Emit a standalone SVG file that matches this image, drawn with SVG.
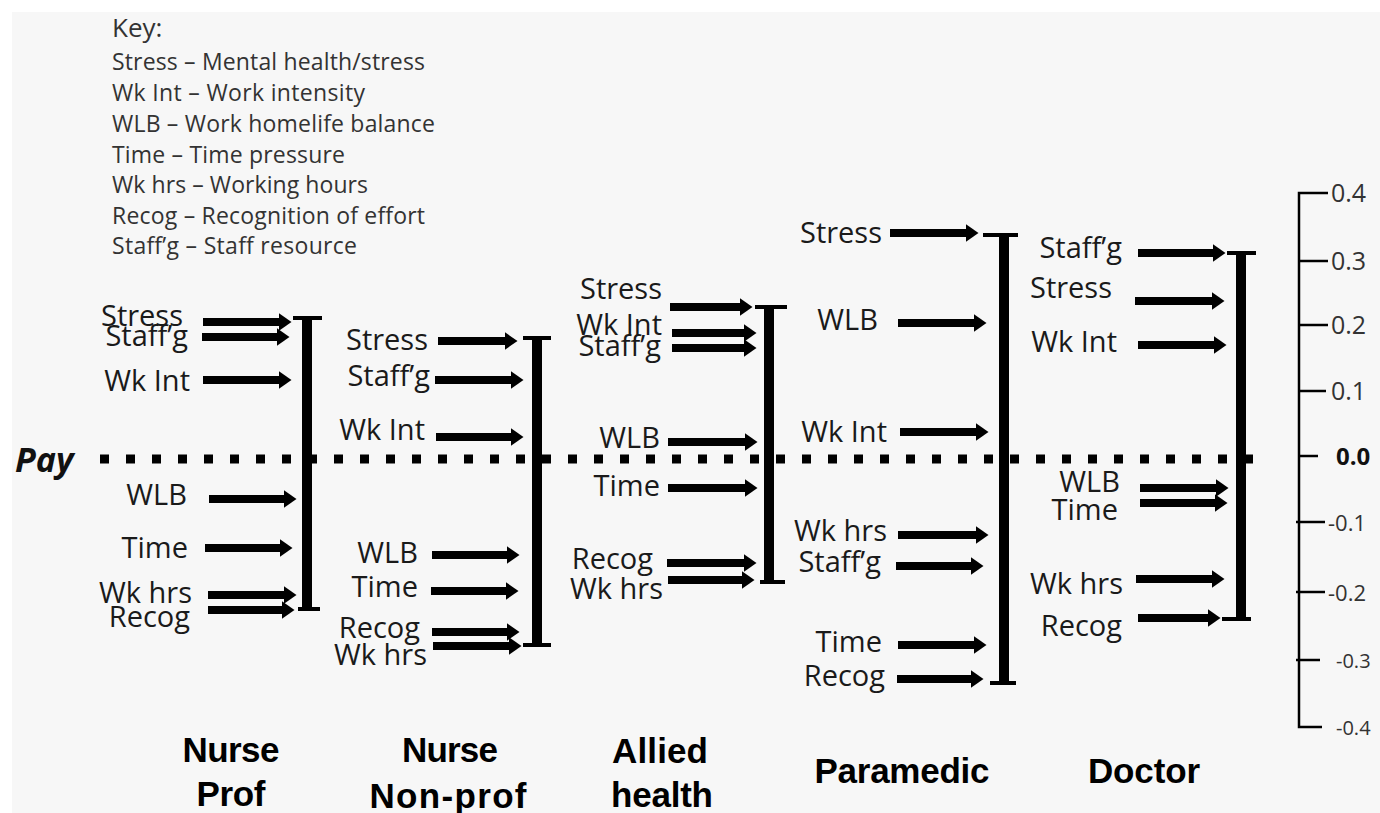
<svg xmlns="http://www.w3.org/2000/svg" width="1380" height="813" viewBox="0 0 1380 813">
<defs>
<marker id="head" markerUnits="userSpaceOnUse" markerWidth="13" markerHeight="18" refX="0.5" refY="9" orient="auto" viewBox="0 0 13 18">
<path d="M0,0 L13,9 L0,18 Z" fill="#000"/>
</marker>
<style>
.arr{stroke:#000;stroke-width:8;marker-end:url(#head)}
.bar{stroke:#000;stroke-width:10}
.cap{stroke:#000;stroke-width:4}
.lbl{font-family:"Open Sans","DejaVu Sans",sans-serif;font-size:29px;fill:#1a1a1a;text-anchor:end}
.key{font-family:"Open Sans","DejaVu Sans",sans-serif;font-size:23px;fill:#333}
.cat{font-family:"Liberation Sans",Arial,sans-serif;font-weight:bold;font-size:35px;fill:#000;text-anchor:middle}
.ax{font-family:"Open Sans","DejaVu Sans",sans-serif;font-size:25px;fill:#333}
.axl{stroke:#000;stroke-width:2.5;fill:none}
</style>
</defs>
<rect x="0" y="0" width="1380" height="813" fill="#fff"/>
<rect x="12" y="12" width="1368" height="801" fill="#f7f7f7"/>

<g id="key">
<text class="key" x="112" y="37" style="font-size:26px">Key:</text>
<text class="key" x="112" y="70" textLength="313">Stress – Mental health/stress</text>
<text class="key" x="112" y="101" textLength="253">Wk Int – Work intensity</text>
<text class="key" x="112" y="132" textLength="323">WLB – Work homelife balance</text>
<text class="key" x="112" y="163" textLength="233">Time – Time pressure</text>
<text class="key" x="112" y="193" textLength="256">Wk hrs – Working hours</text>
<text class="key" x="112" y="224" textLength="313">Recog – Recognition of effort</text>
<text class="key" x="112" y="254" textLength="245">Staff’g – Staff resource</text>
</g>

<g id="pay">
<text x="15" y="472" style="font-family:'Open Sans','DejaVu Sans',sans-serif;font-size:34px;font-weight:bold;font-style:italic;fill:#111">Pay</text>
<line x1="100" y1="459" x2="1262" y2="459" stroke="#000" stroke-width="9" stroke-dasharray="9 17"/>
</g>

<g id="axis">
<polyline class="axl" points="1328,193 1299,193 1299,727 1322,727"/>
<line class="axl" x1="1299" y1="261" x2="1328" y2="261"/>
<line class="axl" x1="1299" y1="325" x2="1328" y2="325"/>
<line class="axl" x1="1299" y1="391" x2="1326" y2="391"/>
<line class="axl" x1="1299" y1="456" x2="1318" y2="456"/>
<line class="axl" x1="1296" y1="522" x2="1325" y2="522"/>
<line class="axl" x1="1296" y1="592" x2="1325" y2="592"/>
<line class="axl" x1="1296" y1="660" x2="1320" y2="660"/>
<text class="ax" x="1331" y="202">0.4</text>
<text class="ax" x="1331" y="270">0.3</text>
<text class="ax" x="1331" y="334">0.2</text>
<text class="ax" x="1331" y="400">0.1</text>
<text class="ax" x="1336" y="465" style="font-weight:bold;fill:#111;font-size:24px">0.0</text>
<text class="ax" x="1328" y="531" style="font-size:22px">-0.1</text>
<text class="ax" x="1328" y="601" style="font-size:22px">-0.2</text>
<text class="ax" x="1336" y="668" style="font-size:20px">-0.3</text>
<text class="ax" x="1336" y="735" style="font-size:20px">-0.4</text>
</g>

<g id="nurse-prof">
<line class="bar" x1="307" y1="318" x2="307" y2="609"/>
<line class="cap" x1="293" y1="318" x2="322" y2="318"/>
<line class="cap" x1="298" y1="609" x2="320" y2="609"/>
<text class="lbl" x="183" y="326">Stress</text>
<text class="lbl" x="188" y="346">Staff’g</text>
<text class="lbl" x="190" y="391">Wk Int</text>
<text class="lbl" x="187" y="505">WLB</text>
<text class="lbl" x="188" y="558">Time</text>
<text class="lbl" x="192" y="603">Wk hrs</text>
<text class="lbl" x="190" y="627">Recog</text>
<text class="cat" x="231" y="762" textLength="97">Nurse</text>
<text class="cat" x="231" y="806" textLength="69">Prof</text>
</g>

<g id="nurse-nonprof">
<line class="bar" x1="537" y1="338" x2="537" y2="645"/>
<line class="cap" x1="523" y1="338" x2="551" y2="338"/>
<line class="cap" x1="523" y1="645" x2="551" y2="645"/>
<text class="lbl" x="428" y="350">Stress</text>
<text class="lbl" x="430" y="386">Staff’g</text>
<text class="lbl" x="425" y="440">Wk Int</text>
<text class="lbl" x="418" y="563">WLB</text>
<text class="lbl" x="418" y="597">Time</text>
<text class="lbl" x="420" y="638">Recog</text>
<text class="lbl" x="427" y="665">Wk hrs</text>
<text class="cat" x="450" y="762" textLength="96">Nurse</text>
<text class="cat" x="448" y="808" textLength="157">Non-prof</text>
</g>

<g id="allied-health">
<line class="bar" x1="769" y1="307" x2="769" y2="582"/>
<line class="cap" x1="755" y1="307" x2="787" y2="307"/>
<line class="cap" x1="760" y1="582" x2="785" y2="582"/>
<text class="lbl" x="662" y="299">Stress</text>
<text class="lbl" x="662" y="335">Wk Int</text>
<text class="lbl" x="661" y="356">Staff’g</text>
<text class="lbl" x="660" y="448">WLB</text>
<text class="lbl" x="660" y="496">Time</text>
<text class="lbl" x="653" y="569">Recog</text>
<text class="lbl" x="663" y="599">Wk hrs</text>
<text class="cat" x="660" y="763" textLength="96">Allied</text>
<text class="cat" x="662" y="807" textLength="102">health</text>
</g>

<g id="paramedic">
<line class="bar" x1="1004" y1="235" x2="1004" y2="683"/>
<line class="cap" x1="983" y1="235" x2="1018" y2="235"/>
<line class="cap" x1="990" y1="683" x2="1016" y2="683"/>
<text class="lbl" x="882" y="243">Stress</text>
<text class="lbl" x="878" y="330">WLB</text>
<text class="lbl" x="887" y="442">Wk Int</text>
<text class="lbl" x="887" y="541">Wk hrs</text>
<text class="lbl" x="881" y="572">Staff’g</text>
<text class="lbl" x="882" y="652">Time</text>
<text class="lbl" x="885" y="686">Recog</text>
<text class="cat" x="902" y="783" textLength="175">Paramedic</text>
</g>

<g id="doctor">
<line class="bar" x1="1241" y1="253" x2="1241" y2="619"/>
<line class="cap" x1="1227" y1="253" x2="1256" y2="253"/>
<line class="cap" x1="1222" y1="619" x2="1251" y2="619"/>
<text class="lbl" x="1122" y="258">Staff’g</text>
<text class="lbl" x="1112" y="298">Stress</text>
<text class="lbl" x="1117" y="352">Wk Int</text>
<text class="lbl" x="1120" y="492">WLB</text>
<text class="lbl" x="1118" y="520">Time</text>
<text class="lbl" x="1123" y="594">Wk hrs</text>
<text class="lbl" x="1122" y="636">Recog</text>
<text class="cat" x="1144" y="783" textLength="112">Doctor</text>
</g>

<g id="connectors">
<line class="arr" x1="203" y1="322" x2="279" y2="322"/>
<line class="arr" x1="202" y1="337" x2="277" y2="337"/>
<line class="arr" x1="203" y1="380" x2="279" y2="380"/>
<line class="arr" x1="209" y1="499" x2="284" y2="499"/>
<line class="arr" x1="205" y1="548" x2="280" y2="548"/>
<line class="arr" x1="208" y1="595" x2="284" y2="595"/>
<line class="arr" x1="208" y1="610" x2="282" y2="610"/>

<line class="arr" x1="438" y1="341" x2="505" y2="341"/>
<line class="arr" x1="435" y1="380" x2="511" y2="380"/>
<line class="arr" x1="436" y1="437" x2="511" y2="437"/>
<line class="arr" x1="432" y1="555" x2="507" y2="555"/>
<line class="arr" x1="431" y1="591" x2="506" y2="591"/>
<line class="arr" x1="432" y1="632" x2="507" y2="632"/>
<line class="arr" x1="433" y1="646" x2="509" y2="646"/>

<line class="arr" x1="670" y1="307" x2="740" y2="307"/>
<line class="arr" x1="672" y1="333" x2="744" y2="333"/>
<line class="arr" x1="672" y1="348" x2="744" y2="348"/>
<line class="arr" x1="668" y1="442" x2="745" y2="442"/>
<line class="arr" x1="668" y1="488" x2="745" y2="488"/>
<line class="arr" x1="667" y1="563" x2="744" y2="563"/>
<line class="arr" x1="668" y1="580" x2="742" y2="580"/>

<line class="arr" x1="890" y1="233" x2="966" y2="233"/>
<line class="arr" x1="898" y1="323" x2="974" y2="323"/>
<line class="arr" x1="900" y1="432" x2="976" y2="432"/>
<line class="arr" x1="898" y1="535" x2="976" y2="535"/>
<line class="arr" x1="896" y1="566" x2="971" y2="566"/>
<line class="arr" x1="898" y1="645" x2="974" y2="645"/>
<line class="arr" x1="897" y1="679" x2="971" y2="679"/>

<line class="arr" x1="1138" y1="253" x2="1213" y2="253"/>
<line class="arr" x1="1135" y1="301" x2="1212" y2="301"/>
<line class="arr" x1="1138" y1="345" x2="1214" y2="345"/>
<line class="arr" x1="1140" y1="488" x2="1216" y2="488"/>
<line class="arr" x1="1140" y1="503" x2="1215" y2="503"/>
<line class="arr" x1="1136" y1="579" x2="1212" y2="579"/>
<line class="arr" x1="1138" y1="618" x2="1208" y2="618"/>
</g>
</svg>
